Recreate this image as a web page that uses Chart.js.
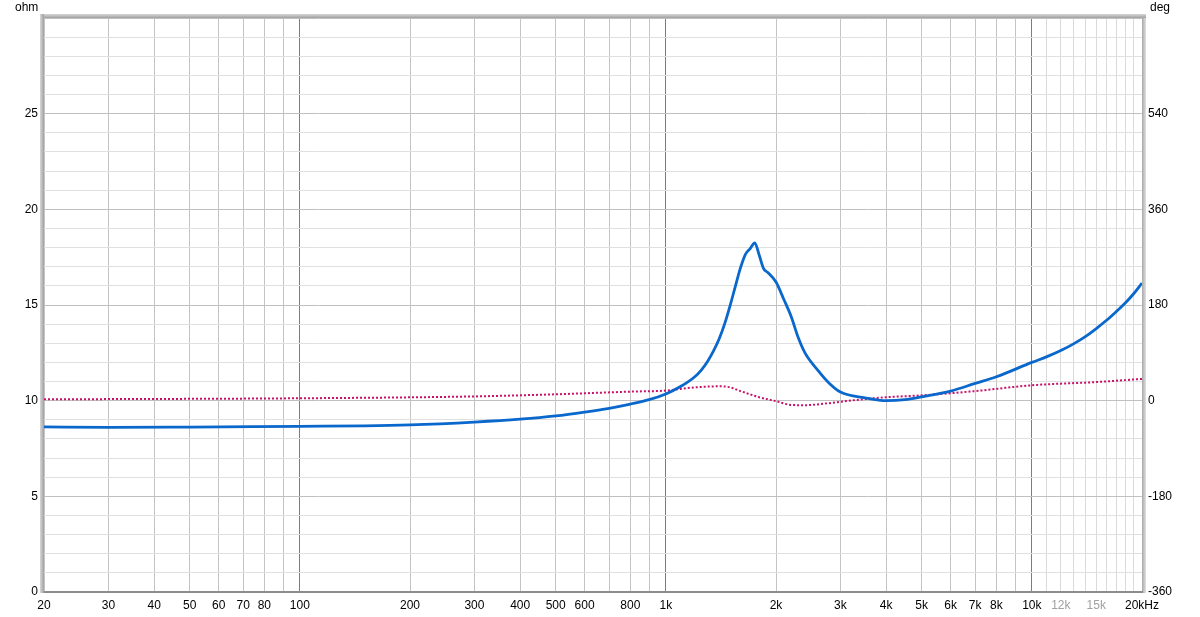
<!DOCTYPE html>
<html>
<head>
<meta charset="utf-8">
<script src="https://cdn.jsdelivr.net/npm/chart.js@4.4.1/dist/chart.umd.min.js"></script>
<style>
  html, body { margin: 0; padding: 0; background: #fff; }
  #wrap { width: 1200px; height: 617px; }
</style>
</head>
<body>
<div id="wrap"><canvas id="chart" width="1200" height="617"></canvas></div>
<script>
// impedance (ohm) vs frequency
const zFreq = [20, 30, 50, 100, 150, 200, 300, 400, 500, 600, 700, 800, 900, 1000, 1100, 1200, 1250, 1300, 1350, 1400, 1450, 1500, 1550, 1600, 1650, 1700, 1750, 1800, 1850, 1900, 2000, 2100, 2200, 2300, 2400, 2600, 2800, 3000, 3500, 4000, 4500, 5000, 6000, 7000, 8000, 10000, 11000, 12000, 13000, 14000, 15000, 16000, 17000, 18000, 19000, 20000];
const zOhm = [8.63, 8.6, 8.62, 8.66, 8.68, 8.73, 8.88, 9.03, 9.2, 9.4, 9.6, 9.82, 10.05, 10.35, 10.75, 11.25, 11.6, 12.05, 12.6, 13.25, 14.05, 15.0, 16.0, 16.95, 17.65, 17.95, 18.25, 17.6, 16.9, 16.7, 16.2, 15.3, 14.4, 13.3, 12.5, 11.6, 10.9, 10.45, 10.15, 10.0, 10.05, 10.2, 10.5, 10.9, 11.25, 12.0, 12.3, 12.62, 12.97, 13.35, 13.77, 14.2, 14.65, 15.1, 15.6, 16.15];

// phase (deg) vs frequency
const pFreq = [20, 100, 300, 500, 800, 1000, 1200, 1400, 1500, 1600, 1800, 2000, 2200, 2400, 2600, 3000, 3500, 4000, 5000, 7000, 10000, 15000, 20000];
const pDeg = [2.5, 4.5, 8, 12, 17, 19, 25, 27, 25, 18, 6.5, -1, -8, -8.5, -7, -2, 3, 6.5, 10, 18, 29, 35, 41];

// axis ticks
const xGrid = [20, 30, 40, 50, 60, 70, 80, 90, 100, 200, 300, 400, 500, 600, 700, 800, 900,
  1000, 2000, 3000, 4000, 5000, 6000, 7000, 8000, 9000,
  10000, 11000, 12000, 13000, 14000, 15000, 16000, 17000, 18000, 19000, 20000];
const xLabels = {20: '20', 30: '30', 40: '40', 50: '50', 60: '60', 70: '70', 80: '80', 100: '100',
  200: '200', 300: '300', 400: '400', 500: '500', 600: '600', 800: '800', 1000: '1k',
  2000: '2k', 3000: '3k', 4000: '4k', 5000: '5k', 6000: '6k', 7000: '7k', 8000: '8k',
  10000: '10k', 12000: '12k', 15000: '15k', 20000: '20kHz'};
const greyLabels = [12000, 15000];
const decades = [100, 1000, 10000];

const font = { family: 'Liberation Sans, Arial, sans-serif', size: 12 };

// sunken frame round the plot + unit captions
const framePlugin = {
  id: 'frame',
  afterDraw(chart) {
    const { ctx, chartArea: a } = chart;
    ctx.save();
    // left bevel
    let g = ctx.createLinearGradient(a.left - 4, 0, a.left, 0);
    g.addColorStop(0, '#d8d8d8');
    g.addColorStop(1, '#a0a0a0');
    ctx.fillStyle = g;
    ctx.fillRect(a.left - 4, a.top - 4, 4, a.bottom - a.top + 5);
    // top bevel
    g = ctx.createLinearGradient(0, a.top - 4, 0, a.top);
    g.addColorStop(0, '#d8d8d8');
    g.addColorStop(1, '#a0a0a0');
    ctx.fillStyle = g;
    ctx.fillRect(a.left, a.top - 4, a.right - a.left + 4, 4);
    // right bevel
    g = ctx.createLinearGradient(a.right, 0, a.right + 4, 0);
    g.addColorStop(0, '#a8a8a8');
    g.addColorStop(1, '#e0e0e0');
    ctx.fillStyle = g;
    ctx.fillRect(a.right, a.top, 4, a.bottom - a.top + 1);
    // bottom line
    ctx.fillStyle = '#8c8c8c';
    ctx.fillRect(a.left, a.bottom - 1, a.right - a.left + 1, 2);

    ctx.fillStyle = '#000';
    ctx.font = '12px Liberation Sans, Arial, sans-serif';
    ctx.textBaseline = 'middle';
    ctx.textAlign = 'left';
    ctx.fillText('ohm', 15, 8);
    ctx.fillText('deg', 1150, 8);
    ctx.restore();
  }
};

new Chart(document.getElementById('chart'), {
  type: 'line',
  data: {
    datasets: [
      {
        label: 'Impedance',
        data: zFreq.map((f, i) => ({ x: f, y: zOhm[i] })),
        yAxisID: 'y',
        borderColor: '#0a68cc',
        borderWidth: 2.8,
        pointRadius: 0,
        cubicInterpolationMode: 'monotone'
      },
      {
        label: 'Phase',
        data: pFreq.map((f, i) => ({ x: f, y: pDeg[i] })),
        yAxisID: 'y1',
        borderColor: '#c8106a',
        borderWidth: 2,
        borderDash: [2, 2],
        pointRadius: 0,
        cubicInterpolationMode: 'monotone'
      }
    ]
  },
  options: {
    responsive: false,
    animation: false,
    layout: { padding: { top: 18, left: 0, right: 0, bottom: 0 } },
    plugins: { legend: { display: false }, tooltip: { enabled: false } },
    scales: {
      x: {
        type: 'logarithmic',
        min: 20,
        max: 20000,
        afterBuildTicks: s => { s.ticks = xGrid.map(v => ({ value: v })); },
        afterFit: s => { s.height = 25; },
        border: { display: false },
        grid: {
          drawTicks: false,
          color: c => decades.includes(c.tick.value) ? '#7c7c7c' :
                      c.tick.value > 10000 ? '#dadada' : '#c4c4c4'
        },
        ticks: {
          autoSkip: false,
          maxRotation: 0,
          padding: 6,
          font,
          color: c => greyLabels.includes(c.tick.value) ? '#a0a0a0' : '#000',
          callback: v => xLabels[v] || ''
        }
      },
      y: {
        position: 'left',
        min: 0,
        max: 30,
        afterFit: s => { s.width = 44; },
        border: { display: false },
        grid: {
          drawTicks: false,
          color: c => c.tick.value % 5 === 0 ? '#c0c0c0' : '#e0e0e0'
        },
        ticks: {
          stepSize: 1,
          padding: 6,
          font,
          color: '#000',
          callback: v => (v % 5 === 0 && v < 30) ? String(v) : ''
        }
      },
      y1: {
        position: 'right',
        min: -360,
        max: 720,
        afterFit: s => { s.width = 58; },
        border: { display: false },
        grid: { display: false, drawTicks: false },
        ticks: {
          stepSize: 180,
          padding: 6,
          font,
          color: '#000',
          callback: v => v < 720 ? String(v) : ''
        }
      }
    }
  },
  plugins: [framePlugin]
});
</script>
</body>
</html>
